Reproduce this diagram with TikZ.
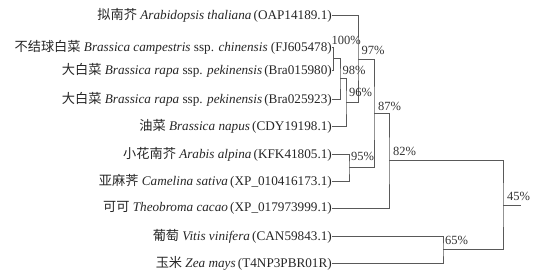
\documentclass[tikz,border=0pt]{standalone}
\usepackage{fontspec}
\setmainfont{Liberation Serif}
\newfontfamily\cjk{Noto Sans CJK SC}
\begin{document}
\begin{tikzpicture}[x=1pt,y=-1pt,
  leaf/.style={anchor=east,inner sep=0pt,text=black!85,font=\fontsize{13.2}{15}\selectfont},
  pct/.style={anchor=west,inner sep=0pt,text=black!80,font=\fontsize{12.5}{14}\selectfont},
  branch/.style={draw=black!65,line width=0.8pt}]
\useasboundingbox (0,0) rectangle (535,275);
% leaves
\node[leaf] (L1) at (332,15.7) {{\cjk 拟南芥} \textit{Arabidopsis thaliana}\,(OAP14189.1)};
\node[leaf] (L2) at (332,47) {{\cjk 不结球白菜} \textit{Brassica campestris} ssp. \textit{chinensis} (FJ605478)};
\node[leaf] (L3) at (332,70) {{\cjk 大白菜} \textit{Brassica rapa} ssp. \textit{pekinensis}\,(Bra015980)};
\node[leaf] (L4) at (332,99) {{\cjk 大白菜} \textit{Brassica rapa} ssp. \textit{pekinensis}\,(Bra025923)};
\node[leaf] (L5) at (332,126) {{\cjk 油菜} \textit{Brassica napus}\,(CDY19198.1)};
\node[leaf] (L6) at (332,154) {{\cjk 小花南芥} \textit{Arabis alpina}\,(KFK41805.1)};
\node[leaf] (L7) at (332,181) {{\cjk 亚麻荠} \textit{Camelina sativa}\,(XP\_010416173.1)};
\node[leaf] (L8) at (332,208) {{\cjk 可可} \textit{Theobroma cacao}\,(XP\_017973999.1)};
\node[leaf] (L9) at (332,236) {{\cjk 葡萄} \textit{Vitis vinifera}\,(CAN59843.1)};
\node[leaf] (L10) at (332,263) {{\cjk 玉米} \textit{Zea mays}\,(T4NP3PBR01R)};
% internal nodes
\coordinate (n100) at (333.5,58.5);
\coordinate (n98) at (340,78.75);
\coordinate (n96) at (346,102.4);
\coordinate (n97) at (358,59);
\coordinate (n95) at (349,167.5);
\coordinate (n87) at (374,113.25);
\coordinate (n82) at (389,160.6);
\coordinate (n65) at (443,249.5);
\coordinate (n45) at (503,205);
\coordinate (root) at (521,205);
% branches
\draw[branch] (L2.east) -| (n100) |- (L3.east);
\draw[branch] (n100) -| (n98) |- (L4.east);
\draw[branch] (n98) -| (n96) |- (L5.east);
\draw[branch] (L1.east) -| (n97) |- (n96);
\draw[branch] (L6.east) -| (n95) |- (L7.east);
\draw[branch] (n97) -| (n87) |- (n95);
\draw[branch] (n87) -| (n82) |- (L8.east);
\draw[branch] (L9.east) -| (n65) |- (L10.east);
\draw[branch] (n82) -| (n45) |- (n65);
\draw[branch] (n45) -- (root);
% support values
\node[pct] (p100) at (331.5,40) {100\%};
\node[pct] (p97) at (361.5,50.5) {97\%};
\node[pct] (p98) at (342.5,70.5) {98\%};
\node[pct] (p96) at (349,92.5) {96\%};
\node[pct] (p87) at (378,106) {87\%};
\node[pct] (p95) at (351,156.5) {95\%};
\node[pct] (p82) at (393,151.5) {82\%};
\node[pct] (p45) at (507,196) {45\%};
\node[pct] (p65) at (445,240.5) {65\%};
\end{tikzpicture}
\end{document}
